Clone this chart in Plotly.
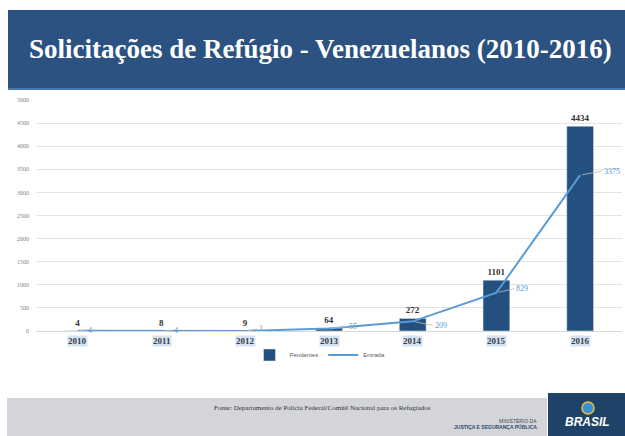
import plotly.graph_objects as go

anos = ["2010", "2011", "2012", "2013", "2014", "2015", "2016"]
pendentes = [4, 8, 9, 64, 272, 1101, 4434]
entrada = [4, 4, 1, 55, 209, 829, 3375]
y_ticks = list(range(0, 5001, 500))

W, H = 625, 436
L, R, T, B = 36, 3, 100, 105  # plot: x 36..622, y 100..331
PW = W - L - R
PH = H - T - B


def px(x):
    return (x - L) / PW


def py(y):
    return (H - B - y) / PH


DARK = "#24507F"
LIGHT = "#5B9BD5"
SERIF = "Liberation Serif, Times New Roman, serif"
SANS = "Liberation Sans, Arial, sans-serif"

fig = go.Figure()
fig.add_trace(go.Bar(
    x=anos, y=pendentes, name="Pendentes", marker_color=DARK,
    text=pendentes, texttemplate="<b>%{text}</b>", textposition="outside",
    textfont=dict(family=SERIF, size=9, color="#333333"), cliponaxis=False,
))
fig.add_trace(go.Scatter(
    x=anos, y=entrada, name="Entrada", mode="lines",
    line=dict(color=LIGHT, width=2), cliponaxis=False,
))

# line data labels with leader lines (x given as category index)
offs = [(8, 0), (10, 0), (12, -2), (18, -2), (20, 4), (18, -4), (22, -4)]
for i, (v, (dx, dy)) in enumerate(zip(entrada, offs)):
    fig.add_annotation(x=i, y=v, xref="x", yref="y", text=str(v),
                       showarrow=True, arrowhead=0, arrowwidth=0.8,
                       arrowcolor="#BFBFBF", ax=dx, ay=dy, xanchor="left",
                       yanchor="middle", standoff=2,
                       font=dict(family=SERIF, size=8, color=LIGHT))

# category labels with highlight
for i, a in enumerate(anos):
    fig.add_annotation(x=i, y=py(341), xref="x", yref="paper",
                       text="<b>%s</b>" % a, showarrow=False,
                       xanchor="center", yanchor="middle",
                       bgcolor="#D3E3F3", borderpad=0,
                       font=dict(family=SERIF, size=9, color="#404040"))

# header
fig.add_shape(type="rect", xref="paper", yref="paper", x0=px(8), x1=px(625),
              y0=py(89), y1=py(10), fillcolor="#2B5281", line_width=0, layer="below")
fig.add_shape(type="rect", xref="paper", yref="paper", x0=px(8), x1=px(625),
              y0=py(90), y1=py(88), fillcolor="#4A78AA", line_width=0, layer="below")
fig.add_annotation(x=px(320), y=py(49), xref="paper", yref="paper",
                   xanchor="center", yanchor="middle",
                   text="<b>Solicitações de Refúgio - Venezuelanos (2010-2016)</b>",
                   showarrow=False, font=dict(family=SERIF, size=27, color="white"))

# footer
fig.add_shape(type="rect", xref="paper", yref="paper", x0=px(7), x1=px(547),
              y0=py(436), y1=py(398), fillcolor="#D3D5D8", line_width=0, layer="below")
fig.add_shape(type="rect", xref="paper", yref="paper", x0=px(548), x1=px(625),
              y0=py(436), y1=py(393), fillcolor="#1F4368", line_width=0, layer="below")
fig.add_shape(type="circle", xref="paper", yref="paper", x0=px(582), x1=px(594),
              y0=py(414), y1=py(402), fillcolor="#3A8FD0",
              line=dict(color="#E8C23A", width=1.5))
fig.add_annotation(x=px(587), y=py(422), xref="paper", yref="paper",
                   xanchor="center", yanchor="middle",
                   text="<b><i>BRASIL</i></b>", showarrow=False,
                   font=dict(family=SANS, size=12, color="white"))
fig.add_annotation(x=px(322), y=py(408), xref="paper", yref="paper",
                   xanchor="center", yanchor="middle",
                   text="Fonte: Departamento de Polícia Federal/Comitê Nacional para os Refugiados",
                   showarrow=False, font=dict(family=SERIF, size=7, color="#333333"))
fig.add_annotation(x=px(539), y=py(421), xref="paper", yref="paper",
                   xanchor="right", yanchor="middle",
                   text="MINISTÉRIO DA", showarrow=False,
                   font=dict(family=SANS, size=5, color="#3A4A60"))
fig.add_annotation(x=px(539), y=py(427), xref="paper", yref="paper",
                   xanchor="right", yanchor="middle",
                   text="<b>JUSTIÇA E SEGURANÇA PÚBLICA</b>", showarrow=False,
                   font=dict(family=SANS, size=5, color="#2B4A70"))

fig.update_layout(
    width=W, height=H, margin=dict(l=L, r=R, t=T, b=B),
    paper_bgcolor="white", plot_bgcolor="white",
    bargap=0.68, showlegend=True,
    legend=dict(orientation="h", x=px(320), xanchor="center", y=py(355), yanchor="middle",
                font=dict(family=SANS, size=6, color="#595959"),
                bgcolor="rgba(0,0,0,0)"),
    xaxis=dict(type="category", categoryorder="array", categoryarray=anos,
               range=[-0.5, len(anos) - 0.5], autorange=False,
               showticklabels=False, showgrid=False, zeroline=False,
               showline=True, linecolor="#D9D9D9", linewidth=1),
    yaxis=dict(range=[0, 5000], autorange=False, tickvals=y_ticks, showgrid=True,
               gridcolor="#E3E3E3", gridwidth=1, zeroline=False, ticks="",
               ticklabelstandoff=6,
               tickfont=dict(family=SERIF, size=6, color="#7F7F7F")),
)

fig.write_html("out.html")
